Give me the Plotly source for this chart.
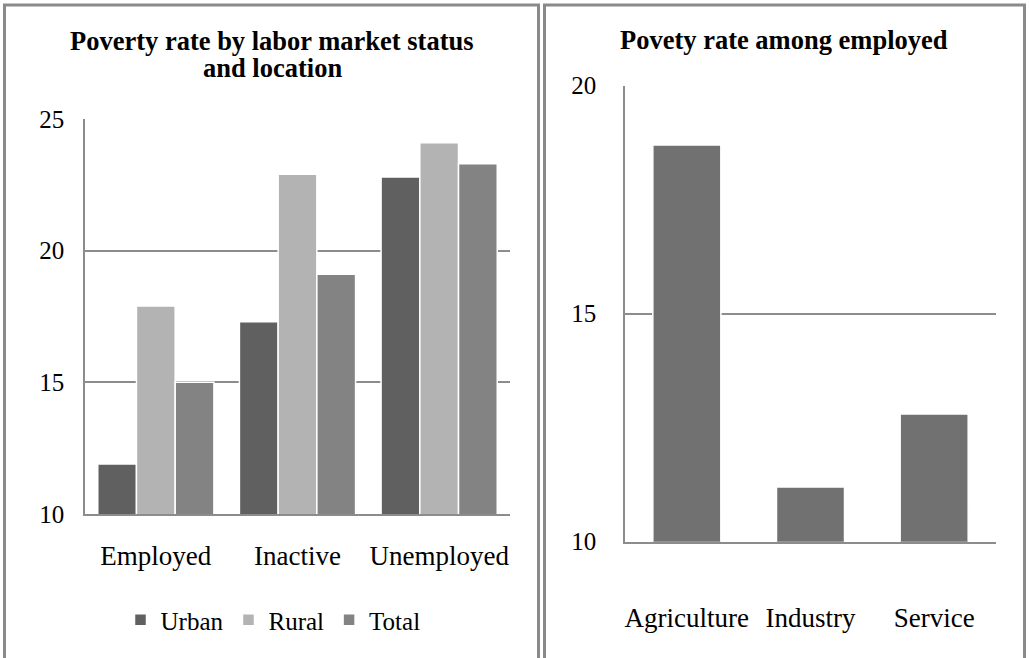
import plotly.graph_objects as go

# Data
status_categories = ["Employed", "Inactive", "Unemployed"]
urban_rates = [11.9, 17.3, 22.8]
rural_rates = [17.9, 22.9, 24.1]
total_rates = [15.0, 19.1, 23.3]

sector_categories = ["Agriculture", "Industry", "Service"]
sector_rates = [18.7, 11.2, 12.8]

left_yticks = [10, 15, 20, 25]
right_yticks = [10, 15, 20]

W, H = 1029, 658
FONT = "Liberation Serif, Times New Roman, serif"
GRID = "#8c8c8c"

fig = go.Figure()
fig.add_trace(go.Bar(x=status_categories, y=urban_rates, name="Urban",
                     marker=dict(color="#606060", line=dict(color="white", width=1.5)),
                     xaxis="x", yaxis="y"))
fig.add_trace(go.Bar(x=status_categories, y=rural_rates, name="Rural",
                     marker=dict(color="#b3b3b3", line=dict(color="white", width=1.5)),
                     xaxis="x", yaxis="y"))
fig.add_trace(go.Bar(x=status_categories, y=total_rates, name="Total",
                     marker=dict(color="#838383", line=dict(color="white", width=1.5)),
                     xaxis="x", yaxis="y"))
fig.add_trace(go.Bar(x=sector_categories, y=sector_rates, name="Employed",
                     marker=dict(color="#717171", line=dict(color="white", width=1.5)),
                     showlegend=False, xaxis="x2", yaxis="y2", width=0.55))

def px_x(v):
    return v / W

def px_y(v):
    return (H - v) / H

tick_font = dict(family=FONT, size=25, color="black")
cat_font = dict(family=FONT, size=27, color="black")
title_font = dict(family=FONT, size=26.5, color="black")

fig.update_layout(
    template="none",
    width=W, height=H,
    margin=dict(l=0, r=0, t=0, b=0, pad=0, autoexpand=False),
    paper_bgcolor="white", plot_bgcolor="white",
    barmode="group", bargap=0.18, bargroupgap=0.0,
    font=dict(family=FONT, color="black"),
    xaxis=dict(domain=[px_x(85), px_x(510)], anchor="y", showgrid=False,
               showline=True, linecolor=GRID, linewidth=1.5, ticks="",
               automargin=False, tickfont=cat_font, ticklabelstandoff=17),
    yaxis=dict(domain=[px_y(514), px_y(119)], anchor="x", range=[10, 25],
               tickvals=left_yticks, showgrid=True, gridcolor=GRID, gridwidth=1.5,
               showline=True, linecolor=GRID, linewidth=1.5, ticks="",
               automargin=False, zeroline=False, tickfont=tick_font,
               ticklabelstandoff=14),
    xaxis2=dict(domain=[px_x(625), px_x(996)], anchor="y2", showgrid=False,
                showline=True, linecolor=GRID, linewidth=1.5, ticks="",
                automargin=False, tickfont=cat_font, ticklabelstandoff=51),
    yaxis2=dict(domain=[px_y(541.7), px_y(85.7)], anchor="x2", range=[10, 20],
                tickvals=right_yticks, showgrid=True, gridcolor=GRID, gridwidth=1.5,
                showline=True, linecolor=GRID, linewidth=1.5, ticks="",
                automargin=False, zeroline=False, tickfont=tick_font,
                ticklabelstandoff=22),
    legend=dict(orientation="h", x=px_x(273), xanchor="center",
                y=px_y(620), yanchor="middle", font=dict(family=FONT, size=25),
                itemwidth=30, bgcolor="rgba(0,0,0,0)"),
    annotations=[
        dict(text="<b>Poverty rate by labor market status</b>",
             x=px_x(272), y=px_y(24), xref="paper", yref="paper",
             xanchor="center", yanchor="top", showarrow=False, font=title_font),
        dict(text="<b>and location</b>",
             x=px_x(272), y=px_y(51), xref="paper", yref="paper",
             xanchor="center", yanchor="top", showarrow=False, font=title_font),
        dict(text="<b>Povety rate among employed</b>",
             x=px_x(784), y=px_y(23), xref="paper", yref="paper",
             xanchor="center", yanchor="top", showarrow=False, font=title_font),
    ],
    shapes=[
        dict(type="rect", xref="paper", yref="paper",
             x0=px_x(4.5), x1=px_x(538.5), y0=-0.05, y1=px_y(5),
             line=dict(color="#8a8a8a", width=3)),
        dict(type="rect", xref="paper", yref="paper",
             x0=px_x(544.5), x1=px_x(1024.5), y0=-0.05, y1=px_y(5),
             line=dict(color="#8a8a8a", width=3)),
    ],
)

fig.write_html(
    "out.html",
    config={"displayModeBar": False},
    post_script=(
        "document.body.style.margin='0';document.body.style.padding='0';"
        "document.documentElement.style.overflow='hidden';"
        "var d=document.getElementById('{plot_id}');"
        "d.style.position='absolute';d.style.top='0px';d.style.left='0px';"
    ),
)
